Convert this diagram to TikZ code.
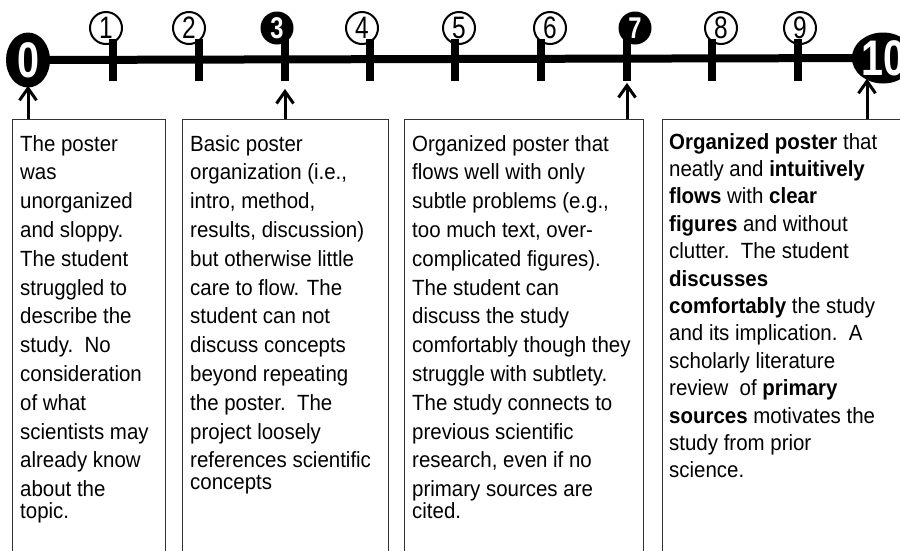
\documentclass[tikz,border=0pt]{standalone}
\usepackage{fontspec}
\setmainfont{Liberation Sans}[FakeStretch=0.93]
\usetikzlibrary{arrows.meta,backgrounds,shapes.geometric}

\def\narrow#1{\scalebox{0.85}[1]{#1}}

\tikzset{
	numring/.style={circle, draw, line width=2pt, fill=white, minimum size=32pt, inner sep=0pt, font=\fontsize{31}{31}\selectfont},
	numdisc/.style={circle, fill=black, text=white, minimum size=33pt, inner sep=0pt, font=\bfseries\fontsize{30}{30}\selectfont},
	endcap/.style={ellipse, fill=black, text=white, inner sep=0pt, font=\bfseries\fontsize{50}{50}\selectfont},
	tickbar/.style={rectangle, fill=black, minimum width=7.3pt, minimum height=41.4pt, inner sep=0pt},
	descbox/.style={rectangle, draw=black!80, line width=1.3pt, anchor=north west, minimum height=460pt, inner sep=0pt},
	desctext/.style={anchor=north west, align=left, inner sep=0pt, font=\fontsize{22}{28.8}\selectfont},
	uparrow/.style={line width=3pt, -{Straight Barb[length=12pt,width=17pt]}}
}

\begin{document}
\begin{tikzpicture}[x=1pt, y=-1pt]
		%%%%% START %%%%%
		\useasboundingbox (0,0) rectangle (900,550);
		
		% ends of the scale
		\node[endcap, minimum width=44pt, minimum height=55pt] (m0) at (28,60) {\narrow{0}};
		\node[endcap, minimum width=46pt, minimum height=51pt] (m10) at (883,58) {\narrow{10}};
		
		% rings above the ticks, then the ticks
		\foreach \n/\tx/\cx/\look in {1/113/106/numring, 2/199/189/numring, 3/285/277/numdisc,
			4/370/362/numring, 5/455/459/numring, 6/541/550/numring, 7/627/635/numdisc,
			8/712/721/numring, 9/798/800/numring}
		{
			\node[\look] (c\n) at (\cx,28) {\narrow{\n}};
			\node[tickbar] (t\n) at (\tx,60) {};
		}
		
		\begin{scope}[on background layer]
			\draw[line width=8pt] (m0.center) -- (m10.center);
		\end{scope}
		
		% description boxes
		\node[descbox, minimum width=153pt] (box0) at (12,119) {};
		\node[descbox, minimum width=206pt] (box3) at (182,119) {};
		\node[descbox, minimum width=239pt] (box7) at (404,119) {};
		\node[descbox, minimum width=262pt] (box10) at (662,119) {};
		
		\node[desctext] (txt0) at ([shift={(8pt,-16pt)}]box0.north west) {The poster\\ was\\ unorganized\\ and sloppy.\\ The student\\ struggled to\\ describe the\\ study.\ \ No\\ consideration\\ of what\\ scientists may\\ already know\\ about the\\[-7.3pt] topic.};
		\node[desctext] (txt3) at ([shift={(8pt,-16pt)}]box3.north west) {Basic poster\\ organization (i.e.,\\ intro, method,\\ results, discussion)\\ but otherwise little\\ care to flow. The\\ student can not\\ discuss concepts\\ beyond repeating\\ the poster.\ \ The\\ project loosely\\ references scientific\\[-7.3pt] concepts};
		\node[desctext] (txt7) at ([shift={(8pt,-16pt)}]box7.north west) {Organized poster that\\ flows well with only\\ subtle problems (e.g.,\\ too much text, over-\\ complicated figures).\\ The student can\\ discuss the study\\ comfortably though they\\ struggle with subtlety.\\ The study connects to\\ previous scientific\\ research, even if no\\ primary sources are\\[-7.3pt] cited.};
		\node[desctext, font=\fontsize{22}{27.4}\selectfont] (txt10) at ([shift={(7pt,-14pt)}]box10.north west) {\textbf{Organized poster} that\\ neatly and \textbf{intuitively}\\ \textbf{flows} with \textbf{clear}\\ \textbf{figures} and without\\ clutter.\ \ The student\\ \textbf{discusses}\\ \textbf{comfortably} the study\\ and its implication.\ \ A\\ scholarly literature\\ review\ \ of \textbf{primary}\\ \textbf{sources} motivates the\\ study from prior\\ science.};
		
		% arrows up to the scale
		\draw[uparrow] (box0.north -| m0) -- ([yshift=2pt]m0.south);
		\draw[uparrow] (box3.north -| t3) -- ([yshift=-8pt]t3.south);
		\draw[uparrow] (box7.north -| t7) -- ([yshift=-2pt]t7.south);
		\coordinate (tip10) at ([shift={(-16pt,5pt)}]m10.south);
		\draw[uparrow] (box10.north -| tip10) -- (tip10);
		
		%%%%% END %%%%%
	\end{tikzpicture}
\end{document}
